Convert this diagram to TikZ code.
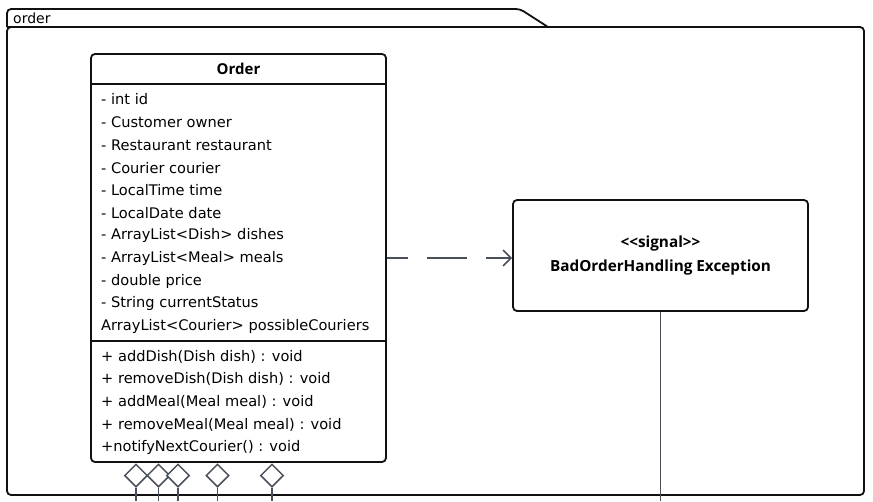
\documentclass[tikz,border=0pt]{standalone}
\usepackage{fontspec}
\setmainfont{DejaVu Sans}
\newfontfamily\boldfam{Open Sans}
\usetikzlibrary{shapes.geometric,arrows.meta}
\definecolor{conn}{HTML}{4A505A}
\definecolor{edge}{HTML}{111111}
\begin{document}
\begin{tikzpicture}[x=1pt,y=-1pt,
  box/.style={draw=edge,line width=1.8pt,rounded corners=4pt,fill=white,inner sep=0pt},
  attr/.style={anchor=west,inner sep=0pt,font=\fontsize{14.6}{16}\selectfont},
  agg/.style={diamond,draw=conn,line width=1.5pt,fill=white,minimum width=23pt,minimum height=23pt,inner sep=0pt},
  link/.style={draw=conn,line width=1.5pt}]
\useasboundingbox (0,0) rectangle (873,501);
% package frame
\draw[edge,line width=1.8pt,rounded corners=4pt] (7,27) -- (7,9) -- (520,9) -- (548,27);
\draw[edge,line width=1.8pt,rounded corners=4pt] (7,27) rectangle (864,495);
\draw[edge,line width=1.8pt] (7,27) -- (860,27);
\node[anchor=west,inner sep=0pt,font=\fontsize{14}{16}\selectfont] (pkg) at (13,18.5) {order};
% Order class
\node[box,minimum width=295pt,minimum height=408pt] (order) at (238.5,258) {};
\draw[edge,line width=1.8pt] (91,84) -- (386,84);
\draw[edge,line width=1.8pt] (91,341) -- (386,341);
\node[inner sep=0pt,font=\boldfam\bfseries\fontsize{15}{16}\selectfont] (title) at (238.5,69) {Order};
\node[attr] (a1) at (101,99.5) {- int id};
\node[attr] (a2) at (101,122.2) {- Customer owner};
\node[attr] (a3) at (101,144.9) {- Restaurant restaurant};
\node[attr] (a4) at (101,167.6) {- Courier courier};
\node[attr] (a5) at (101,190.3) {- LocalTime time};
\node[attr] (a6) at (101,213) {- LocalDate date};
\node[attr] (a7) at (101,235.7) {- ArrayList<Dish> dishes};
\node[attr] (a8) at (101,258.4) {- ArrayList<Meal> meals};
\node[attr] (a9) at (101,281.1) {- double price};
\node[attr] (a10) at (101,303.8) {- String currentStatus};
\node[attr] (a11) at (101,326.5) {ArrayList<Courier> possibleCouriers};
\node[attr] (m1) at (101,356.5) {+ addDish(Dish dish) : void};
\node[attr] (m2) at (101,379.2) {+ removeDish(Dish dish) : void};
\node[attr] (m3) at (101,401.9) {+ addMeal(Meal meal) : void};
\node[attr] (m4) at (101,424.6) {+ removeMeal(Meal meal) : void};
\node[attr] (m5) at (101,447.3) {+notifyNextCourier() : void};
% signal
\node[box,minimum width=295pt,minimum height=111pt,align=center,font=\boldfam\bfseries\fontsize{15.3}{24}\selectfont] (signal) at (660.5,255.5) {{<}{<}signal{>}{>}\\BadOrderHandling Exception};
% dependency
\draw[link,dash pattern=on 40pt off 19pt,dash phase=19pt,-{Straight Barb[length=8pt,width=16pt,line width=1.5pt]}] (order.east) -- (signal.west |- order.east);
% vertical line from signal
\coordinate (sb) at (signal.south |- 0,501);
\draw[link] (signal.south) -- (sb);
% aggregation diamonds
\foreach \i/\x in {1/136,2/158.5,3/178,4/217.5,5/272}{
  \node[agg] (d\i) at (\x,475.5) {};
  \coordinate (e\i) at (\x,501);
  \draw[link] (d\i.south) -- (e\i);
}
\end{tikzpicture}
\end{document}
